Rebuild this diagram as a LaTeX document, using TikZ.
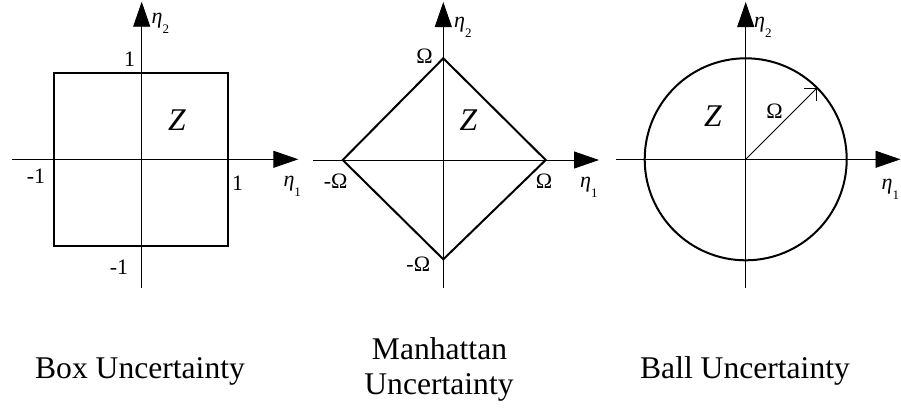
\documentclass[tikz,border=0pt]{standalone}
\usepackage{fontspec}
\setmainfont{Liberation Serif}
\usetikzlibrary{arrows.meta}
\newcommand{\etalab}[1]{{\itshape η}\raisebox{-10pt}{\fontsize{13}{13}\selectfont #1}}
\begin{document}
\begin{tikzpicture}[x=1pt,y=-1pt,
  axisline/.style={line width=0.9pt,-{Triangle[length=25pt,width=17pt]}},
  outline/.style={line width=2pt,line join=miter},
  ticklab/.style={font=\fontsize{22}{22}\selectfont,inner sep=0pt,anchor=base},
  zlab/.style={font=\fontsize{31.6}{32}\selectfont\itshape,inner sep=0pt,anchor=base},
  etal/.style={font=\fontsize{22}{22}\selectfont,inner sep=0pt,anchor=base west},
  captxt/.style={font=\fontsize{31.6}{38}\selectfont,inner sep=0pt,anchor=base}]
\path[use as bounding box] (0,0) rectangle (901,408);
% ---------- Box panel ----------
\coordinate (bL) at (12,159.3);
\coordinate (bR) at (298.3,159.3);
\coordinate (bB) at (141.7,288);
\coordinate (bT) at (141.7,1.7);
\draw[axisline] (bL) -- (bR);
\draw[axisline] (bB) -- (bT);
\coordinate (sq1) at (54.3,72.7);
\coordinate (sq2) at (227.7,246);
\draw[outline] (sq1) rectangle (sq2);
\node[ticklab] (b1t) at (129.5,66.7) {1};
\node[ticklab] (b1l) at (36,183) {-1};
\node[ticklab] (b1r) at (237.5,190) {1};
\node[ticklab] (b1b) at (119,274) {-1};
\node[zlab] (bZ) at (177,130.7) {Z};
\node[etal] (be2) at (151.5,23.3) {\etalab{2}};
\node[etal] (be1) at (283.3,186.7) {\etalab{1}};
\node[captxt] (bcap) at (140,378.3) {Box Uncertainty};
% ---------- Manhattan panel ----------
\coordinate (mL) at (313,160);
\coordinate (mR) at (599,160);
\coordinate (mB) at (443.3,288.3);
\coordinate (mT) at (443.3,2);
\draw[axisline] (mL) -- (mR);
\draw[axisline] (mB) -- (mT);
\coordinate (dT) at (443.3,58.3);
\coordinate (dR) at (545.7,160);
\coordinate (dB) at (443.3,259.3);
\coordinate (dL) at (342.7,160);
\draw[outline] (dT) -- (dR) -- (dB) -- (dL) -- cycle;
\node[ticklab] (mOt) at (424.5,63.3) {Ω};
\node[ticklab] (mOl) at (335.7,188) {-Ω};
\node[ticklab] (mOr) at (544,188) {Ω};
\node[ticklab] (mOb) at (418.3,271.7) {-Ω};
\node[zlab] (mZ) at (468.5,130.7) {Z};
\node[etal] (me2) at (454,27) {\etalab{2}};
\node[etal] (me1) at (580,187) {\etalab{1}};
\node[captxt] (mcap1) at (439.5,359.3) {Manhattan};
\node[captxt] (mcap2) at (439,394) {Uncertainty};
% ---------- Ball panel ----------
\coordinate (cL) at (616,159.3);
\coordinate (cR) at (900.5,159.3);
\coordinate (cB) at (745.7,288.3);
\coordinate (cT) at (745.7,2);
\draw[axisline] (cL) -- (cR);
\draw[axisline] (cB) -- (cT);
\coordinate (cO) at (745.7,159.3);
\draw[outline] (cO) circle[radius=101pt];
\coordinate (cP) at (817.1,87.9);
\draw[line width=0.8pt,-{Straight Barb[length=9pt,width=18pt]}] (cO) -- (cP);
\node[ticklab] (cOm) at (774.5,118.3) {Ω};
\node[zlab] (cZ) at (713,126.7) {Z};
\node[etal] (ce2) at (754,27) {\etalab{2}};
\node[etal] (ce1) at (881.5,189) {\etalab{1}};
\node[captxt] (ccap) at (745,378) {Ball Uncertainty};
\end{tikzpicture}
\end{document}
